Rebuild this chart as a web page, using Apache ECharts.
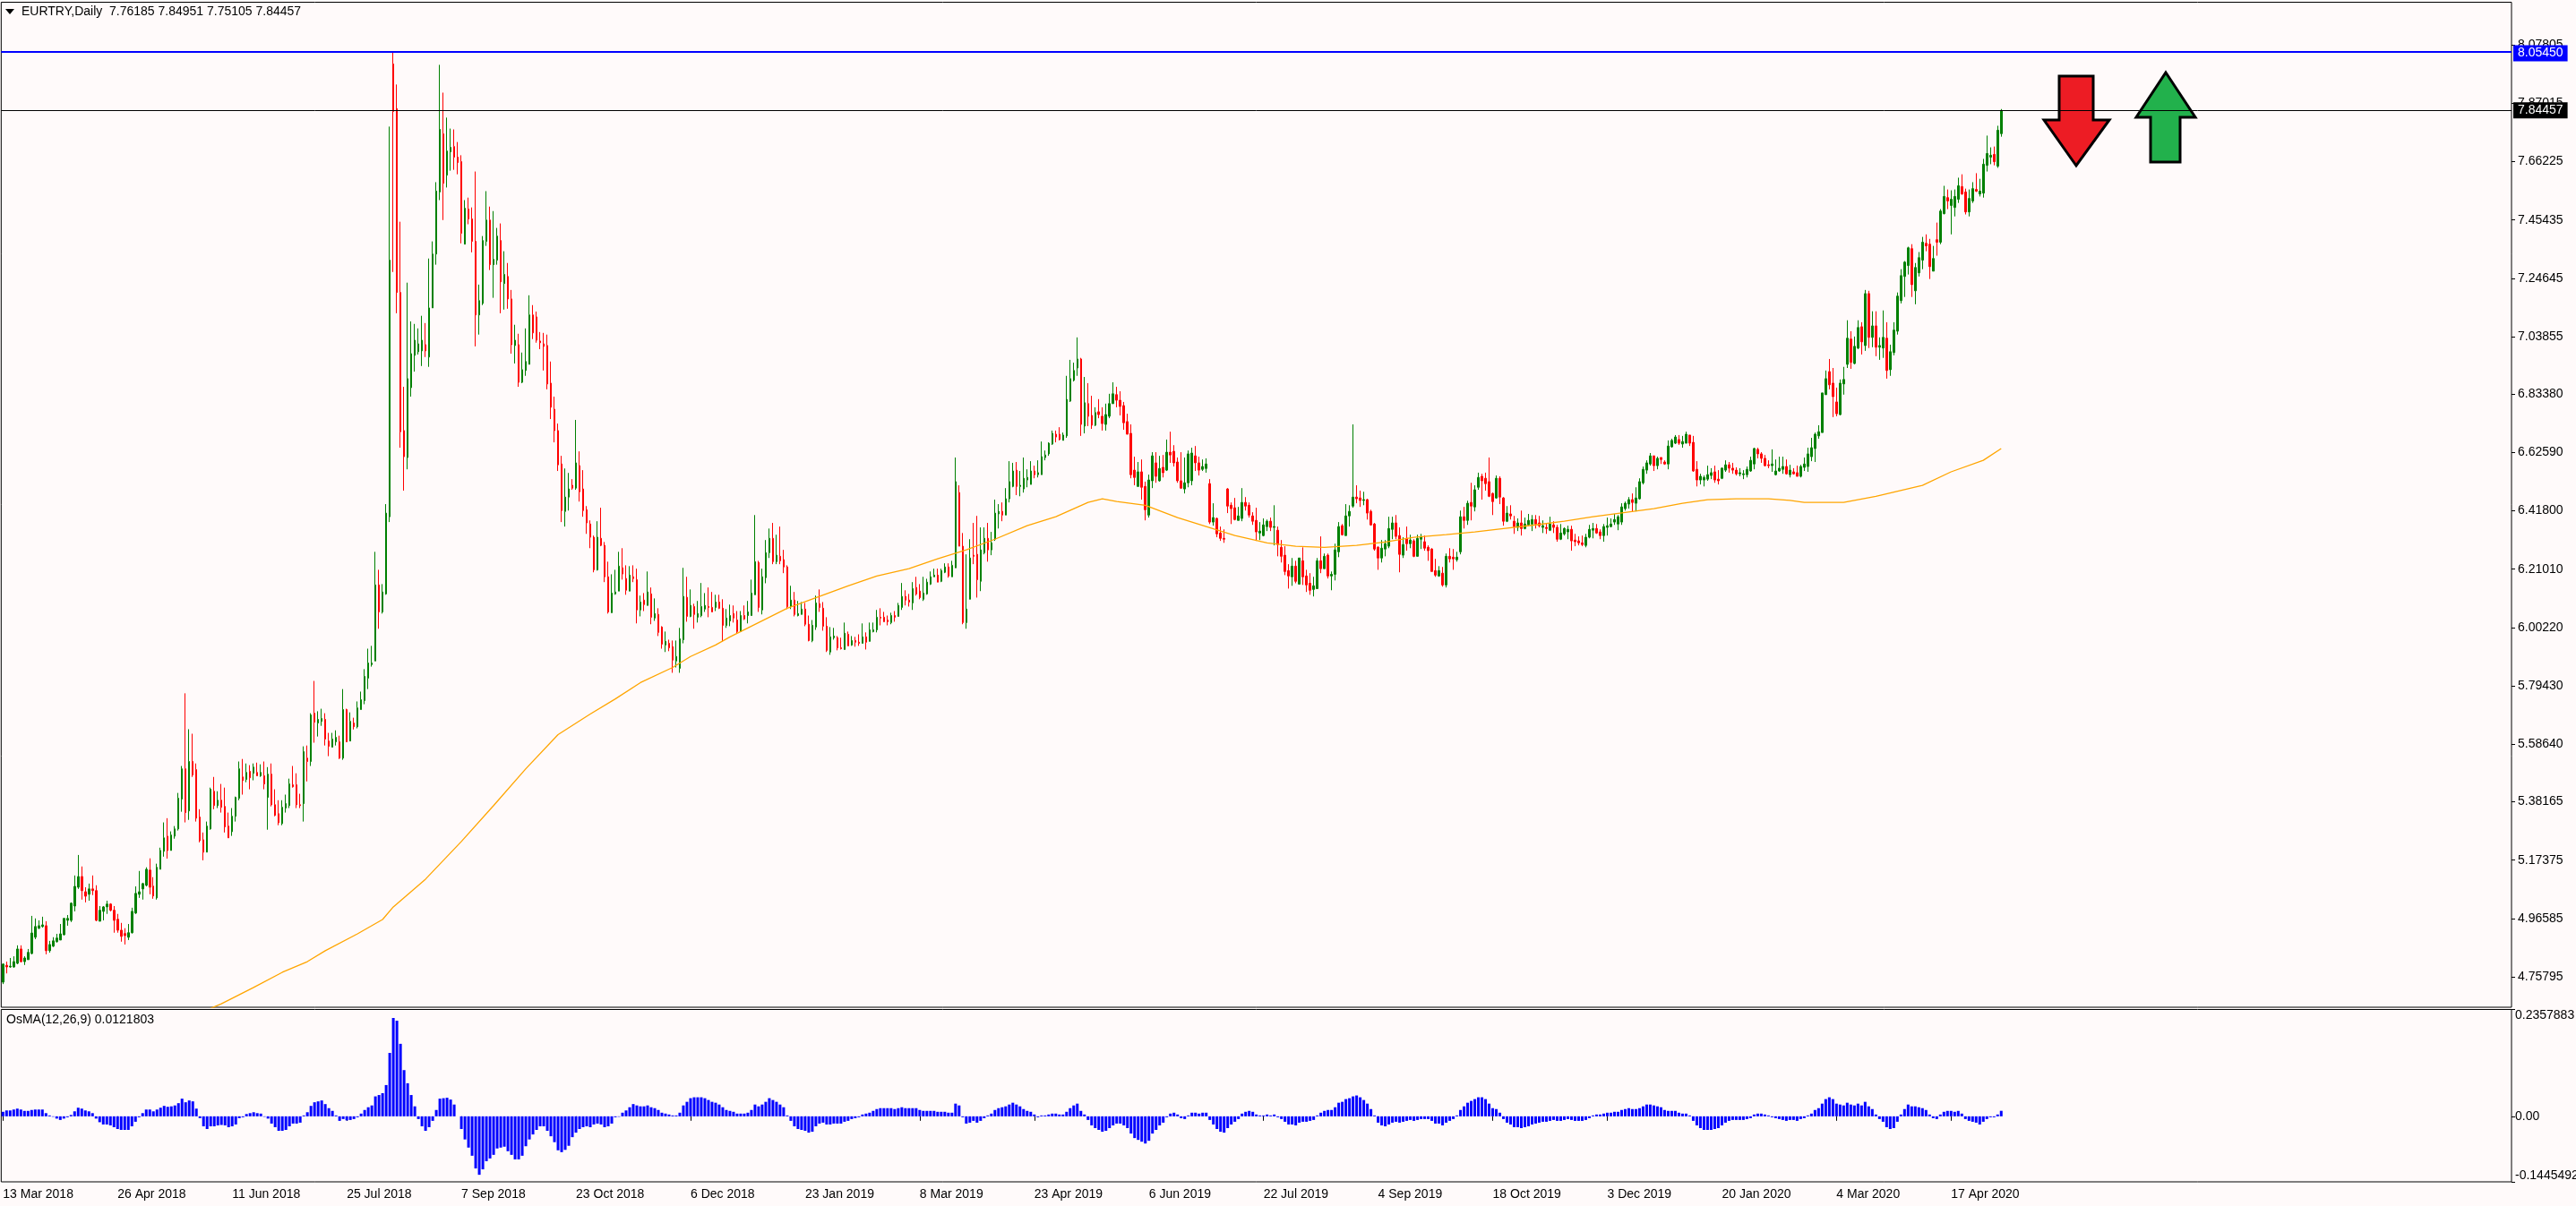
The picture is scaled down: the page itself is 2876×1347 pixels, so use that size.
<!DOCTYPE html>
<html><head><meta charset="utf-8">
<style>html,body{margin:0;padding:0;background:#fffafa}#c{width:2876px;height:1347px}</style>
<script src="https://cdn.jsdelivr.net/npm/echarts@6/dist/echarts.min.js"></script>
</head><body><div id="c"></div>
<script>
const tickDates=['13 Mar 2018','26 Apr 2018','11 Jun 2018','25 Jul 2018','7 Sep 2018','23 Oct 2018','6 Dec 2018','23 Jan 2019','8 Mar 2019','23 Apr 2019','6 Jun 2019','22 Jul 2019','4 Sep 2019','18 Oct 2019','3 Dec 2019','20 Jan 2020','4 Mar 2020','17 Apr 2020'];
const priceTicks=[4.75795,4.96585,5.17375,5.38165,5.58640,5.79430,6.00220,6.21010,6.41800,6.62590,6.83380,7.03855,7.24645,7.45435,7.66225,7.87015,8.07805];
const osmaTicks=[-0.1445492,0,0.2357883];
const resistanceLevel=8.05450;
const lastPrice=7.84457;

// each row: open, close, low, high
const candlesA=[
[4.739,4.803,4.732,4.806],[4.799,4.793,4.770,4.812],[4.793,4.796,4.790,4.825],[4.793,4.812,4.790,4.831],[4.806,4.857,4.803,4.870],
[4.857,4.812,4.809,4.870],[4.812,4.825,4.800,4.831],[4.819,4.845,4.819,4.857],[4.841,4.914,4.838,4.975],[4.899,4.937,4.892,4.966],
[4.931,4.940,4.928,4.959],[4.937,4.943,4.933,4.972],[4.940,4.851,4.838,4.956],[4.851,4.873,4.844,4.886],[4.867,4.886,4.864,4.899],
[4.883,4.896,4.880,4.911],[4.889,4.911,4.889,4.946],[4.908,4.966,4.905,4.966],[4.959,4.966,4.940,4.978],[4.959,5.020,4.953,5.023],
[5.010,5.080,4.991,5.119],[5.077,5.115,5.071,5.192],[5.115,5.065,5.033,5.151],[5.061,5.045,5.023,5.077],[5.052,5.071,5.029,5.090],
[5.071,5.065,5.049,5.119],[5.065,4.959,4.956,5.084],[4.956,4.995,4.956,5.010],[4.991,5.007,4.959,5.010],[5.007,5.017,4.982,5.029],
[5.017,4.995,4.991,5.020],[4.995,4.959,4.915,5.010],[4.963,4.924,4.915,4.982],[4.924,4.902,4.883,4.950],[4.912,4.905,4.873,4.931],
[4.899,4.915,4.889,4.946],[4.915,4.991,4.912,5.004],[4.985,5.055,4.982,5.080],[5.052,5.061,5.039,5.135],[5.071,5.090,5.033,5.093],
[5.084,5.141,5.080,5.148],[5.138,5.077,5.052,5.180],[5.081,5.046,5.036,5.113],[5.039,5.148,5.033,5.161],[5.141,5.208,5.141,5.218],
[5.205,5.253,5.186,5.308],[5.259,5.208,5.179,5.323],[5.208,5.263,5.208,5.276],[5.259,5.285,5.250,5.295],[5.285,5.394,5.279,5.413],
[5.391,5.499,5.346,5.509],[5.499,5.343,5.308,5.768],[5.349,5.525,5.317,5.640],[5.525,5.477,5.470,5.624],[5.496,5.323,5.311,5.518],
[5.327,5.243,5.237,5.355],[5.246,5.202,5.173,5.272],[5.202,5.295,5.202,5.311],[5.285,5.426,5.282,5.432],[5.419,5.368,5.355,5.470],
[5.368,5.387,5.359,5.419],[5.387,5.362,5.343,5.445],[5.365,5.292,5.272,5.432],[5.295,5.253,5.253,5.343],[5.275,5.330,5.260,5.359],
[5.330,5.397,5.311,5.400],[5.394,5.499,5.387,5.525],[5.470,5.457,5.407,5.534],[5.461,5.486,5.451,5.518],[5.490,5.467,5.426,5.512],
[5.483,5.505,5.458,5.518],[5.486,5.474,5.474,5.521],[5.474,5.486,5.470,5.515],[5.474,5.445,5.426,5.525],[5.397,5.480,5.282,5.505],
[5.480,5.371,5.365,5.518],[5.371,5.333,5.330,5.426],[5.339,5.307,5.298,5.387],[5.304,5.362,5.298,5.387],[5.359,5.375,5.343,5.407],
[5.368,5.445,5.359,5.464],[5.442,5.435,5.432,5.509],[5.442,5.371,5.359,5.483],[5.371,5.368,5.359,5.410],[5.375,5.560,5.311,5.579],
[5.537,5.525,5.454,5.582],[5.525,5.691,5.509,5.697],[5.697,5.665,5.592,5.812],[5.662,5.675,5.614,5.704],[5.668,5.678,5.652,5.713],
[5.675,5.605,5.582,5.697],[5.598,5.579,5.544,5.627],[5.576,5.605,5.576,5.627],[5.595,5.611,5.582,5.636],[5.595,5.537,5.534,5.617],
[5.537,5.710,5.531,5.783],[5.710,5.595,5.595,5.713],[5.598,5.668,5.598,5.700],[5.662,5.649,5.639,5.681],[5.649,5.716,5.643,5.739],
[5.710,5.745,5.710,5.774],[5.742,5.828,5.729,5.854],[5.822,5.876,5.783,5.927],[5.870,5.876,5.863,5.937],[5.883,6.154,5.883,6.272],
[6.154,6.058,5.998,6.208],[6.058,6.129,6.052,6.157],[6.122,6.410,6.119,6.442],[6.397,7.311,6.378,7.787],[8.010,7.841,7.269,8.0545],
[7.851,7.196,7.122,7.937],[7.196,6.700,6.643,7.448],[6.704,6.611,6.490,6.860],[6.608,6.889,6.566,7.231],[6.857,6.978,6.825,7.093],
[6.972,7.026,6.914,7.084],[6.985,7.013,6.975,7.068],[6.988,7.026,6.934,7.113],[7.010,6.988,6.966,7.087],[6.966,7.141,6.931,7.317],
[7.141,7.333,7.141,7.378],[7.333,7.557,7.295,7.589],[7.554,7.777,7.525,8.007],[7.761,7.585,7.454,7.908],[7.614,7.700,7.570,7.819],
[7.697,7.713,7.630,7.780],[7.716,7.678,7.633,7.777],[7.678,7.659,7.617,7.732],[7.662,7.407,7.371,7.685],[7.368,7.496,7.368,7.525],
[7.493,7.458,7.439,7.534],[7.458,7.378,7.339,7.499],[7.378,7.116,7.004,7.627],[7.116,7.167,7.046,7.224],[7.157,7.381,7.151,7.397],
[7.378,7.454,7.362,7.557],[7.454,7.295,7.276,7.502],[7.295,7.314,7.177,7.486],[7.311,7.397,7.295,7.426],[7.381,7.234,7.122,7.442],
[7.228,7.260,7.135,7.343],[7.253,7.173,7.138,7.301],[7.173,7.010,6.978,7.205],[7.007,7.026,6.943,7.081],[7.010,6.876,6.860,7.049],
[6.876,6.921,6.873,6.982],[6.918,6.950,6.899,7.068],[6.940,7.116,6.940,7.186],[7.116,7.052,7.030,7.151],[7.109,7.026,7.017,7.128]
];
const candlesB=[
[7.023,7.017,6.994,7.055],[7.013,7.004,6.918,7.052],[7.007,6.870,6.851,7.046],[6.873,6.787,6.745,6.950],[6.780,6.704,6.662,6.825],
[6.704,6.582,6.560,6.729],[6.585,6.419,6.378,6.614],[6.416,6.467,6.362,6.569],[6.467,6.496,6.419,6.553],[6.509,6.499,6.493,6.531],
[6.499,6.589,6.493,6.742],[6.579,6.486,6.451,6.630],[6.496,6.419,6.397,6.563],[6.422,6.375,6.336,6.435],[6.371,6.324,6.285,6.384],
[6.324,6.208,6.199,6.330],[6.208,6.324,6.205,6.381],[6.320,6.295,6.292,6.429],[6.295,6.183,6.164,6.307],[6.183,6.058,6.052,6.237],
[6.055,6.125,6.055,6.192],[6.122,6.129,6.119,6.208],[6.132,6.221,6.132,6.272],[6.215,6.193,6.173,6.285],[6.177,6.135,6.119,6.224],
[6.132,6.189,6.132,6.221],[6.183,6.177,6.164,6.224],[6.173,6.065,6.017,6.212],[6.065,6.093,6.042,6.116],[6.100,6.084,6.061,6.125],
[6.081,6.129,6.081,6.202],[6.122,6.039,6.014,6.145],[6.036,6.052,6.026,6.106],[6.049,5.985,5.972,6.071],[6.004,5.943,5.927,6.007],
[5.940,5.953,5.915,5.988],[5.946,5.930,5.918,5.959],[5.934,5.886,5.841,5.956],[5.883,5.899,5.860,5.956],[5.857,5.962,5.841,6.001],
[5.959,6.113,5.946,6.215],[6.110,6.042,6.023,6.183],[6.042,6.081,6.039,6.138],[6.077,6.049,5.998,6.087],[6.039,6.052,6.020,6.097],
[6.045,6.077,6.039,6.161],[6.068,6.081,6.058,6.125],[6.077,6.074,6.039,6.145],[6.074,6.058,6.058,6.129],[6.074,6.093,6.061,6.119],
[6.093,6.071,6.068,6.119],[6.071,6.010,5.953,6.103],[6.010,6.036,6.001,6.068],[6.026,6.045,6.007,6.084],[6.052,6.036,6.020,6.081],
[6.029,5.988,5.982,6.061],[5.988,6.045,5.988,6.061],[6.045,6.033,6.029,6.081],[6.045,6.058,6.017,6.097],[6.045,6.125,6.045,6.173],
[6.119,6.237,6.119,6.403],[6.234,6.074,6.058,6.240],[6.065,6.183,6.049,6.212],[6.180,6.269,6.160,6.314],[6.269,6.320,6.250,6.355],
[6.320,6.237,6.228,6.375],[6.237,6.260,6.228,6.333],[6.256,6.240,6.228,6.362],[6.244,6.218,6.196,6.279],[6.218,6.077,6.068,6.224],
[6.077,6.100,6.068,6.151],[6.100,6.049,6.042,6.129],[6.045,6.052,6.042,6.097],[6.049,6.068,6.049,6.093],[6.068,6.014,6.007,6.090],
[6.014,5.956,5.953,6.045],[5.956,6.010,5.950,6.029],[6.004,6.090,5.994,6.116],[6.087,6.074,6.058,6.138],[6.071,6.007,5.991,6.093],
[6.007,5.921,5.915,6.039],[5.915,5.969,5.905,6.004],[5.966,5.972,5.959,6.001],[5.966,5.930,5.921,5.972],[5.930,5.927,5.924,5.966],
[5.924,5.982,5.924,6.020],[5.978,5.937,5.937,5.988],[5.940,5.956,5.937,5.972],[5.956,5.950,5.934,5.969],[5.950,5.946,5.937,5.978],
[5.946,5.969,5.946,6.017],[5.969,5.950,5.924,5.985],[5.953,5.994,5.953,6.020],[5.988,5.994,5.985,6.020],[5.994,6.039,5.985,6.065],
[6.039,6.036,6.010,6.071],[6.039,6.023,6.023,6.058],[6.029,6.023,6.010,6.045],[6.020,6.045,6.014,6.055],[6.045,6.039,6.023,6.061],
[6.042,6.081,6.042,6.090],[6.074,6.113,6.065,6.161],[6.113,6.100,6.081,6.135],[6.100,6.093,6.077,6.122],[6.090,6.141,6.065,6.164],
[6.145,6.122,6.116,6.183],[6.132,6.109,6.103,6.157],[6.103,6.125,6.097,6.183],[6.122,6.164,6.119,6.176],[6.157,6.183,6.154,6.202],
[6.183,6.189,6.183,6.212],[6.189,6.164,6.164,6.212],[6.167,6.205,6.164,6.212],[6.199,6.218,6.196,6.231],[6.218,6.186,6.180,6.231],
[6.183,6.224,6.183,6.240],[6.215,6.522,6.215,6.608],[6.483,6.292,6.292,6.509],[6.292,6.020,6.014,6.339],[6.020,6.068,5.998,6.263],
[6.103,6.250,6.103,6.317],[6.260,6.256,6.228,6.375],[6.263,6.173,6.109,6.400],[6.167,6.279,6.132,6.359],[6.269,6.320,6.263,6.359],
[6.320,6.279,6.237,6.375],[6.279,6.304,6.260,6.343],[6.317,6.410,6.311,6.458],[6.407,6.416,6.355,6.442],[6.416,6.403,6.381,6.448],
[6.403,6.461,6.403,6.499],[6.461,6.522,6.448,6.595],[6.505,6.560,6.502,6.589],[6.563,6.505,6.474,6.592],[6.505,6.509,6.470,6.560],
[6.496,6.534,6.483,6.608],[6.528,6.537,6.502,6.566],[6.512,6.560,6.512,6.595],[6.560,6.547,6.534,6.579],[6.547,6.554,6.537,6.598],
[6.547,6.611,6.547,6.665],[6.608,6.617,6.598,6.633],[6.621,6.659,6.614,6.662],[6.656,6.694,6.653,6.704],[6.691,6.681,6.662,6.704],
[6.691,6.672,6.669,6.716],[6.669,6.688,6.669,6.697],[6.685,6.815,6.678,6.899],[6.809,6.889,6.806,6.956],[6.883,6.918,6.879,6.946]
];
const candlesC=[
[6.927,6.959,6.899,7.036],[6.959,6.726,6.685,6.963],[6.720,6.803,6.694,6.895],[6.800,6.755,6.720,6.873],[6.758,6.723,6.710,6.828],
[6.723,6.768,6.720,6.787],[6.771,6.761,6.748,6.816],[6.755,6.729,6.704,6.787],[6.726,6.761,6.704,6.800],[6.755,6.800,6.748,6.835],
[6.800,6.835,6.800,6.876],[6.832,6.812,6.787,6.860],[6.812,6.790,6.758,6.844],[6.793,6.732,6.707,6.806],[6.736,6.691,6.691,6.764],
[6.694,6.547,6.534,6.726],[6.563,6.537,6.509,6.611],[6.505,6.557,6.505,6.592],[6.557,6.502,6.458,6.601],[6.505,6.422,6.384,6.522],
[6.403,6.528,6.394,6.547],[6.525,6.614,6.499,6.627],[6.589,6.541,6.518,6.627],[6.525,6.569,6.522,6.614],[6.573,6.554,6.537,6.617],
[6.563,6.627,6.560,6.672],[6.627,6.617,6.589,6.700],[6.630,6.589,6.576,6.652],[6.592,6.525,6.518,6.608],[6.525,6.499,6.496,6.627],
[6.496,6.518,6.480,6.608],[6.518,6.621,6.502,6.633],[6.525,6.624,6.509,6.643],[6.614,6.589,6.560,6.649],[6.589,6.563,6.544,6.611],
[6.566,6.576,6.560,6.601],[6.569,6.585,6.554,6.605],[6.515,6.378,6.371,6.531],[6.378,6.394,6.365,6.445],[6.391,6.336,6.324,6.394],
[6.339,6.320,6.311,6.362],[6.320,6.317,6.304,6.352],[6.496,6.435,6.410,6.499],[6.438,6.426,6.371,6.448],[6.429,6.387,6.384,6.464],
[6.384,6.400,6.384,6.432],[6.391,6.448,6.381,6.499],[6.448,6.435,6.419,6.467],[6.438,6.403,6.394,6.448],[6.400,6.381,6.368,6.413],
[6.384,6.343,6.311,6.429],[6.339,6.346,6.314,6.378],[6.330,6.368,6.327,6.391],[6.362,6.381,6.346,6.387],[6.381,6.359,6.346,6.394],
[6.359,6.362,6.295,6.438],[6.349,6.298,6.256,6.362],[6.288,6.256,6.234,6.314],[6.260,6.202,6.189,6.292],[6.205,6.186,6.141,6.228],
[6.183,6.221,6.151,6.250],[6.221,6.167,6.160,6.240],[6.157,6.250,6.157,6.250],[6.240,6.183,6.154,6.288],[6.186,6.154,6.129,6.208],
[6.160,6.135,6.119,6.196],[6.138,6.151,6.113,6.183],[6.141,6.240,6.141,6.250],[6.240,6.212,6.196,6.327],[6.212,6.256,6.212,6.266],
[6.260,6.186,6.177,6.266],[6.186,6.192,6.135,6.202],[6.192,6.279,6.170,6.301],[6.272,6.362,6.253,6.378],[6.365,6.333,6.330,6.371],
[6.330,6.400,6.330,6.442],[6.400,6.416,6.362,6.438],[6.435,6.467,6.429,6.726],[6.467,6.461,6.445,6.509],[6.464,6.455,6.432,6.490],
[6.455,6.458,6.438,6.486],[6.458,6.410,6.387,6.461],[6.416,6.368,6.365,6.422],[6.371,6.282,6.276,6.375],[6.288,6.250,6.208,6.292],
[6.250,6.285,6.234,6.314],[6.282,6.301,6.256,6.314],[6.292,6.355,6.285,6.397],[6.352,6.375,6.317,6.397],[6.375,6.327,6.317,6.403],
[6.330,6.263,6.199,6.359],[6.260,6.298,6.250,6.324],[6.320,6.301,6.276,6.362],[6.301,6.314,6.285,6.333],[6.311,6.256,6.253,6.317],
[6.256,6.320,6.256,6.333],[6.317,6.324,6.282,6.336],[6.308,6.285,6.276,6.330],[6.288,6.276,6.240,6.295],[6.282,6.202,6.202,6.285],
[6.205,6.189,6.183,6.247],[6.186,6.205,6.183,6.221],[6.196,6.154,6.148,6.218],[6.154,6.256,6.145,6.266],[6.256,6.247,6.234,6.285],
[6.253,6.247,6.208,6.282],[6.244,6.253,6.237,6.272],[6.272,6.397,6.263,6.419],[6.397,6.384,6.355,6.432],[6.384,6.445,6.368,6.454],
[6.448,6.435,6.384,6.518],[6.432,6.493,6.416,6.509],[6.502,6.537,6.493,6.554],[6.541,6.525,6.458,6.550],[6.534,6.515,6.490,6.554],
[6.522,6.470,6.467,6.608],[6.480,6.451,6.403,6.483],[6.464,6.534,6.461,6.544],[6.534,6.467,6.442,6.541],[6.464,6.381,6.365,6.467],
[6.381,6.410,6.378,6.435],[6.407,6.400,6.387,6.438],[6.381,6.362,6.336,6.400],[6.359,6.375,6.346,6.391],[6.375,6.355,6.330,6.419],
[6.355,6.371,6.352,6.394],[6.368,6.384,6.365,6.407],[6.371,6.387,6.346,6.403],[6.387,6.371,6.355,6.403],[6.375,6.365,6.359,6.400],
[6.359,6.365,6.339,6.384],[6.359,6.355,6.336,6.375],[6.349,6.371,6.346,6.397],[6.368,6.359,6.339,6.381],[6.359,6.317,6.308,6.368],
[6.317,6.339,6.314,6.371],[6.336,6.355,6.330,6.359],[6.343,6.352,6.317,6.365],[6.352,6.311,6.276,6.365],[6.314,6.308,6.292,6.336],
[6.311,6.304,6.295,6.327],[6.304,6.298,6.292,6.330],[6.295,6.324,6.288,6.336],[6.324,6.352,6.320,6.368],[6.349,6.355,6.320,6.375],
[6.355,6.339,6.336,6.371],[6.343,6.330,6.317,6.352],[6.330,6.362,6.308,6.371],[6.359,6.365,6.330,6.394],[6.362,6.371,6.359,6.391]
];
const candlesD=[
[6.378,6.387,6.368,6.407],[6.371,6.397,6.349,6.403],[6.378,6.432,6.368,6.445],[6.426,6.445,6.419,6.451],[6.442,6.458,6.426,6.467],
[6.458,6.448,6.416,6.480],[6.445,6.464,6.416,6.502],[6.461,6.522,6.458,6.534],[6.518,6.566,6.512,6.576],[6.563,6.589,6.550,6.598],
[6.585,6.614,6.579,6.624],[6.614,6.579,6.560,6.614],[6.579,6.605,6.566,6.611],[6.608,6.601,6.585,6.608],[6.592,6.585,6.582,6.598],
[6.585,6.649,6.566,6.669],[6.646,6.669,6.643,6.675],[6.659,6.681,6.656,6.688],[6.672,6.659,6.653,6.688],[6.656,6.665,6.643,6.685],
[6.659,6.691,6.659,6.700],[6.688,6.659,6.649,6.688],[6.662,6.560,6.557,6.685],[6.566,6.528,6.505,6.595],[6.528,6.541,6.512,6.550],
[6.528,6.537,6.505,6.544],[6.531,6.547,6.525,6.579],[6.544,6.554,6.531,6.570],[6.557,6.528,6.518,6.579],[6.531,6.525,6.512,6.563],
[6.534,6.570,6.531,6.573],[6.563,6.582,6.557,6.598],[6.582,6.570,6.554,6.592],[6.570,6.563,6.550,6.589],[6.563,6.550,6.544,6.573],
[6.550,6.554,6.541,6.570],[6.547,6.550,6.531,6.563],[6.547,6.566,6.537,6.576],[6.560,6.598,6.557,6.611],[6.585,6.640,6.566,6.643],
[6.637,6.621,6.605,6.643],[6.621,6.605,6.589,6.627],[6.605,6.579,6.576,6.617],[6.582,6.579,6.570,6.598],[6.579,6.585,6.557,6.637],
[6.547,6.560,6.544,6.601],[6.560,6.570,6.557,6.611],[6.566,6.576,6.550,6.611],[6.576,6.550,6.547,6.601],[6.547,6.563,6.537,6.582],
[6.557,6.550,6.547,6.570],[6.554,6.541,6.541,6.579],[6.541,6.576,6.537,6.582],[6.573,6.585,6.560,6.608],[6.576,6.621,6.557,6.643],
[6.611,6.643,6.595,6.678],[6.640,6.691,6.592,6.697],[6.685,6.700,6.675,6.723],[6.697,6.838,6.697,6.838],[6.832,6.889,6.832,6.918],
[6.914,6.867,6.851,6.959],[6.873,6.825,6.752,6.927],[6.806,6.764,6.755,6.857],[6.761,6.873,6.758,6.886],[6.870,6.886,6.832,6.931],
[6.940,7.033,6.927,7.097],[7.030,6.947,6.924,7.058],[6.943,7.004,6.940,7.039],[6.998,7.071,6.994,7.097],[7.074,7.020,6.975,7.090],
[7.007,7.192,6.988,7.205],[7.192,7.036,6.998,7.202],[7.036,7.077,7.001,7.129],[7.077,7.001,6.969,7.129],[7.001,7.007,6.956,7.036],
[6.998,7.036,6.963,7.132],[7.033,6.918,6.889,7.090],[6.921,6.985,6.899,7.010],[6.982,7.062,6.972,7.090],[7.058,7.183,7.046,7.196],
[7.167,7.256,7.157,7.279],[7.253,7.304,7.180,7.308],[7.292,7.355,7.260,7.359],[7.352,7.224,7.180,7.368],[7.202,7.285,7.154,7.301],
[7.266,7.320,7.253,7.340],[7.311,7.375,7.279,7.394],[7.371,7.362,7.343,7.403],[7.368,7.288,7.244,7.387],[7.272,7.317,7.272,7.362],
[7.384,7.375,7.327,7.445],[7.375,7.486,7.368,7.493],[7.477,7.538,7.474,7.576],[7.534,7.522,7.493,7.563],[7.506,7.528,7.403,7.560],
[7.499,7.538,7.467,7.563],[7.528,7.576,7.515,7.605],[7.573,7.547,7.544,7.617],[7.554,7.483,7.474,7.566],[7.483,7.531,7.467,7.563],
[7.522,7.566,7.515,7.589],[7.563,7.557,7.554,7.621],[7.547,7.557,7.538,7.601],[7.550,7.653,7.534,7.672],[7.649,7.691,7.627,7.755],
[7.678,7.685,7.653,7.713],[7.688,7.662,7.649,7.716],[7.646,7.774,7.640,7.790],[7.76185,7.84457,7.75105,7.84951]
];
const osmaValues=[
0.010,0.013,0.013,0.015,0.017,0.015,0.012,0.012,0.014,0.015,0.015,0.015,0.007,0.002,-0.001,-0.005,-0.008,-0.005,-0.002,0.003,
0.011,0.019,0.017,0.013,0.011,0.007,-0.005,-0.013,-0.018,-0.018,-0.020,-0.024,-0.028,-0.030,-0.030,-0.030,-0.022,-0.012,-0.002,0.007,
0.015,0.015,0.011,0.015,0.019,0.023,0.021,0.022,0.024,0.029,0.039,0.031,0.035,0.033,0.017,-0.004,-0.022,-0.028,-0.022,-0.022,
-0.020,-0.019,-0.020,-0.024,-0.022,-0.018,-0.004,-0.002,0.005,0.007,0.009,0.007,0.006,-0.001,-0.005,-0.016,-0.024,-0.032,-0.032,-0.030,
-0.022,-0.016,-0.016,-0.014,0.002,0.009,0.023,0.031,0.033,0.035,0.027,0.018,0.012,0.002,-0.010,-0.006,-0.009,-0.008,-0.006,-0.002,
0.006,0.014,0.020,0.024,0.044,0.047,0.051,0.069,0.140,0.217,0.211,0.160,0.102,0.073,0.047,0.022,-0.006,-0.022,-0.032,-0.024,
-0.010,0.014,0.039,0.040,0.041,0.037,0.026,0.000,-0.028,-0.051,-0.069,-0.087,-0.115,-0.129,-0.117,-0.099,-0.093,-0.085,-0.071,-0.069,
-0.067,-0.077,-0.085,-0.095,-0.095,-0.087,-0.066,-0.051,-0.040,-0.030,-0.022,-0.022,-0.032,-0.044,-0.057,-0.075,-0.079,-0.074,-0.065,-0.046,
-0.036,-0.028,-0.024,-0.022,-0.024,-0.018,-0.016,-0.018,-0.024,-0.022,-0.016,-0.002,-0.001,0.008,0.013,0.020,0.027,0.024,0.022,0.022,
0.024,0.020,0.018,0.014,0.008,0.006,0.004,0.002,0.002,0.008,0.024,0.032,0.040,0.042,0.042,0.042,0.040,0.036,0.032,0.030,
0.026,0.020,0.014,0.012,0.010,0.006,0.006,0.006,0.008,0.014,0.026,0.022,0.026,0.032,0.040,0.036,0.032,0.026,0.020,0.002,
-0.010,-0.022,-0.028,-0.030,-0.032,-0.036,-0.034,-0.022,-0.016,-0.014,-0.018,-0.018,-0.016,-0.016,-0.016,-0.012,-0.010,-0.006,-0.004,-0.002,
0.004,0.006,0.008,0.012,0.016,0.018,0.018,0.018,0.018,0.016,0.018,0.020,0.018,0.018,0.018,0.018,0.014,0.012,0.012,0.012,
0.012,0.010,0.010,0.010,0.008,0.008,0.028,0.024,-0.002,-0.016,-0.014,-0.010,-0.014,-0.010,-0.004,0.002,0.006,0.014,0.018,0.020,
0.022,0.026,0.030,0.026,0.022,0.016,0.012,0.010,0.004,-0.002,0.002,0.002,0.004,0.006,0.006,0.004,0.004,0.010,0.018,0.024,
0.028,0.012,0.004,-0.008,-0.020,-0.026,-0.030,-0.034,-0.032,-0.026,-0.020,-0.016,-0.016,-0.020,-0.026,-0.038,-0.048,-0.052,-0.056,-0.060,
-0.054,-0.038,-0.030,-0.020,-0.014,-0.002,0.006,0.008,0.004,-0.004,-0.006,0.002,0.008,0.008,0.006,0.008,0.008,-0.008,-0.018,-0.028,
-0.034,-0.036,-0.026,-0.018,-0.012,-0.006,0.006,0.010,0.012,0.010,0.004,0.002,0.002,0.004,0.002,0.004,-0.002,-0.006,-0.012,-0.018,
-0.018,-0.020,-0.014,-0.012,-0.012,-0.010,-0.008,0.002,0.008,0.012,0.014,0.014,0.020,0.030,0.032,0.038,0.040,0.044,0.046,0.042,
0.036,0.028,0.016,0.002,-0.014,-0.020,-0.022,-0.018,-0.014,-0.012,-0.014,-0.012,-0.010,-0.008,-0.010,-0.008,-0.006,-0.006,-0.006,-0.010,
-0.016,-0.016,-0.020,-0.014,-0.010,-0.006,0.002,0.014,0.022,0.030,0.034,0.038,0.042,0.042,0.038,0.028,0.018,0.016,0.008,-0.006,
-0.014,-0.018,-0.024,-0.024,-0.026,-0.024,-0.022,-0.018,-0.016,-0.014,-0.012,-0.012,-0.010,-0.008,-0.010,-0.010,-0.008,-0.006,-0.008,-0.010,
-0.010,-0.010,-0.008,-0.004,0.002,0.004,0.004,0.006,0.008,0.008,0.010,0.010,0.014,0.016,0.018,0.016,0.016,0.018,0.022,0.026,
0.026,0.024,0.022,0.020,0.014,0.012,0.012,0.012,0.008,0.006,0.006,0.002,-0.010,-0.020,-0.026,-0.030,-0.030,-0.030,-0.028,-0.026,
-0.020,-0.014,-0.010,-0.008,-0.008,-0.008,-0.008,-0.006,-0.004,0.004,0.006,0.006,0.004,0.002,-0.002,-0.004,-0.006,-0.008,-0.010,-0.008,
-0.008,-0.010,-0.006,-0.004,0.002,0.006,0.014,0.018,0.028,0.038,0.042,0.038,0.028,0.026,0.024,0.030,0.026,0.024,0.028,0.024,
0.032,0.022,0.016,0.004,-0.006,-0.012,-0.024,-0.028,-0.026,-0.012,0.004,0.016,0.026,0.022,0.022,0.020,0.018,0.014,0.004,-0.004,
-0.006,0.004,0.010,0.012,0.012,0.010,0.012,0.006,-0.006,-0.010,-0.012,-0.014,-0.018,-0.012,-0.006,-0.002,-0.002,0.004,0.0121803
];
const maIndex=[57,61,70,78,85,90,99,106,109,118,128,137,146,155,164,171,178,187,192,199,203,211,219,228,236,244,253,261,269,277,286,294,303,307,311,319,328,336,344,353,361,369,378,386,394,403,411,419,428,436,444,461,469,476,484,493,499,503,514,523,536,544,553,558];
const maValues=[4.640,4.662,4.720,4.774,4.812,4.851,4.911,4.962,5.007,5.106,5.240,5.368,5.499,5.621,5.694,5.748,5.806,5.860,5.899,5.940,5.969,6.020,6.071,6.113,6.151,6.186,6.212,6.247,6.279,6.317,6.365,6.397,6.448,6.461,6.451,6.438,6.394,6.362,6.330,6.304,6.292,6.288,6.295,6.307,6.324,6.333,6.343,6.355,6.368,6.381,6.397,6.426,6.445,6.458,6.461,6.461,6.455,6.448,6.448,6.470,6.509,6.557,6.598,6.640];

const FONT='"Liberation Sans",Arial,sans-serif';
const slotCount=701;
const categories=Array.from({length:slotCount},(_,i)=>i%32===0&&tickDates[i/32]?tickDates[i/32]:'');
const candleData=candlesA.concat(candlesB,candlesC,candlesD);
const chart=echarts.init(document.getElementById('c'),null,{renderer:'canvas',width:2876,height:1347});
const isDated=i=>i%32===0&&i/32<tickDates.length;
chart.setOption({
 animation:false,backgroundColor:'#fffafa',
 grid:[
  {left:1.33,top:2.5,width:2802.67,height:1122.5,show:true,borderColor:'#000',borderWidth:1,backgroundColor:'transparent',outerBoundsMode:'none'},
  {left:1.33,top:1127.5,width:2802.67,height:192.5,show:true,borderColor:'#000',borderWidth:1,backgroundColor:'transparent',outerBoundsMode:'none'}
 ],
 xAxis:[
  {type:'category',gridIndex:0,data:categories,show:false},
  {type:'category',gridIndex:1,data:categories,axisLine:{show:false},
   axisTick:{show:true,alignWithLabel:true,interval:isDated,length:5,lineStyle:{color:'#000'}},
   axisLabel:{interval:isDated,align:'left',margin:7,color:'#000',fontFamily:FONT,fontSize:14,hideOverlap:false},splitLine:{show:false}}
 ],
 yAxis:[
  {type:'value',gridIndex:0,position:'right',min:4.64949,max:8.23003,scale:true,splitLine:{show:false},axisLine:{show:false},
   axisTick:{show:true,length:4,lineStyle:{color:'#000'},customValues:priceTicks},
   axisLabel:{customValues:priceTicks,margin:7,color:'#000',fontFamily:FONT,fontSize:14,formatter:v=>v.toFixed(5),hideOverlap:false}},
  {type:'value',gridIndex:1,position:'right',min:osmaTicks[0],max:osmaTicks[2],splitLine:{show:false},axisLine:{show:false},
   axisTick:{show:true,length:4,lineStyle:{color:'#000'},customValues:osmaTicks},
   axisLabel:{customValues:osmaTicks,margin:4,color:'#000',fontFamily:FONT,fontSize:14,verticalAlignMaxLabel:'top',verticalAlignMinLabel:'bottom',hideOverlap:false,
     formatter:v=>v===0?'0.00':v.toFixed(7)}}
 ],
 title:[
  {text:'EURTRY,Daily  7.76185 7.84951 7.75105 7.84457',left:24,top:6,padding:0,textStyle:{color:'#000',fontFamily:FONT,fontSize:14,fontWeight:'normal'}},
  {text:'OsMA(12,26,9) 0.0121803',left:7,top:1132,padding:0,textStyle:{color:'#000',fontFamily:FONT,fontSize:14,fontWeight:'normal'}}
 ],
 graphic:[
  {type:'polygon',z:1,shape:{points:[[6,10],[16,10],[11,16]]},style:{fill:'#000'}},
  {type:'polygon',z:1,shape:{points:[[2299,85],[2337,85],[2337,134],[2355,134],[2318,185],[2282,134],[2299,134]]},style:{fill:'#ed1c24',stroke:'#000',lineWidth:3}},
  {type:'polygon',z:1,shape:{points:[[2418,81],[2451,131],[2434,131],[2434,181],[2401,181],[2401,131],[2385,131]]},style:{fill:'#22b14c',stroke:'#000',lineWidth:3}}
 ],
 series:[
  {type:'candlestick',xAxisIndex:0,yAxisIndex:0,data:candleData,barWidth:2,clip:true,progressive:0,large:false,animation:false,z:3,
   itemStyle:{color:'#008000',color0:'#ff0000',borderColor:'#008000',borderColor0:'#ff0000',borderWidth:1},
   markLine:{silent:true,symbol:'none',animation:false,z:6,precision:5,
    data:[
     {yAxis:resistanceLevel,lineStyle:{color:'#0000ff',width:2,type:'solid'},
      label:{show:true,position:'end',distance:2,offset:[0,2],formatter:()=>resistanceLevel.toFixed(5),color:'#fff',backgroundColor:'#0000ff',padding:[2,5],fontFamily:FONT,fontSize:14}},
     {yAxis:lastPrice,lineStyle:{color:'#000',width:1,type:'solid'},
      label:{show:true,position:'end',distance:2,formatter:()=>lastPrice.toFixed(5),color:'#fff',backgroundColor:'#000',padding:[2,5],fontFamily:FONT,fontSize:14}}
    ]}},
  {type:'line',xAxisIndex:0,yAxisIndex:0,data:maIndex.map((k,i)=>[k,maValues[i]]),showSymbol:false,symbol:'none',z:4,clip:true,lineStyle:{color:'#ffa500',width:1.3},animation:false},
  {type:'bar',xAxisIndex:1,yAxisIndex:1,data:osmaValues,barWidth:3,itemStyle:{color:'#0000ff'},animation:false,progressive:0}
 ]
});
</script></body></html>
